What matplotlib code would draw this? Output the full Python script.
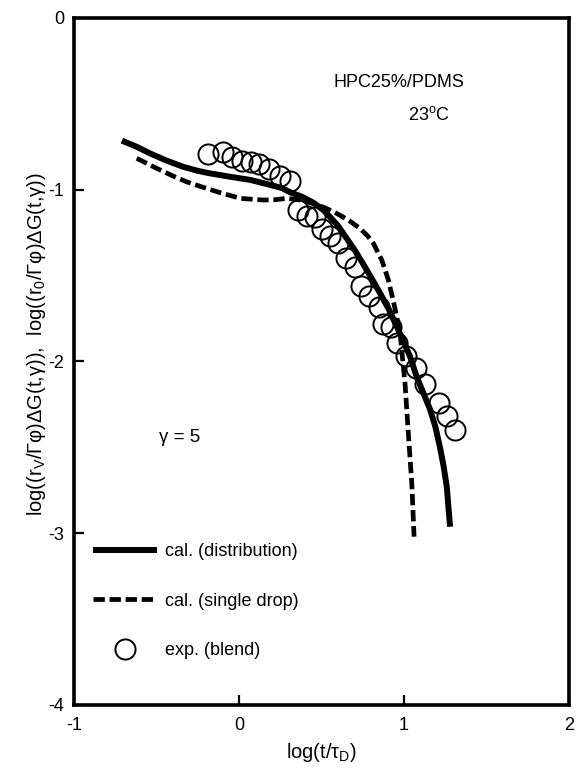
import matplotlib
matplotlib.use('Agg')
import matplotlib.pyplot as plt

plt.rcParams['font.family'] = ['Liberation Sans', 'DejaVu Sans']
plt.rcParams['mathtext.default'] = 'regular'

# cal. (distribution)
dist_x = [-0.71, -0.62, -0.54, -0.44, -0.34, -0.25, -0.18, -0.05, 0.07, 0.19, 0.26,
          0.31, 0.38, 0.45, 0.51, 0.55, 0.60, 0.65, 0.70, 0.75, 0.80, 0.855, 0.91,
          0.956, 1.0, 1.036, 1.077, 1.12, 1.158, 1.19, 1.218, 1.24, 1.259, 1.279]
dist_y = [-0.714, -0.75, -0.788, -0.83, -0.866, -0.89, -0.904, -0.925, -0.943, -0.972, -0.99,
          -1.015, -1.04, -1.075, -1.118, -1.157, -1.21, -1.28, -1.35, -1.428, -1.51, -1.603, -1.70,
          -1.797, -1.89, -1.97, -2.09, -2.19, -2.28, -2.38, -2.50, -2.61, -2.729, -2.962]

# cal. (single drop)
drop_x = [-0.62, -0.50, -0.40, -0.32, -0.22, -0.135, 0.006, 0.147, 0.22, 0.289, 0.37,
          0.45, 0.52, 0.59, 0.66, 0.733, 0.78, 0.814, 0.865, 0.905, 0.945, 0.976,
          1.006, 1.026, 1.047, 1.061]
drop_y = [-0.817, -0.875, -0.92, -0.953, -0.985, -1.011, -1.05, -1.06, -1.058, -1.05, -1.06,
          -1.08, -1.105, -1.137, -1.175, -1.225, -1.27, -1.312, -1.409, -1.525, -1.69, -1.836,
          -2.127, -2.418, -2.709, -3.02]

# exp. (blend)
exp_x = [-0.19, -0.10, -0.04, 0.02, 0.07, 0.12, 0.18, 0.25, 0.31, 0.36, 0.41, 0.46,
         0.50, 0.55, 0.60, 0.65, 0.70, 0.74, 0.79, 0.85, 0.87, 0.92, 0.96, 1.01,
         1.07, 1.13, 1.21, 1.26, 1.31]
exp_y = [-0.79, -0.78, -0.81, -0.83, -0.84, -0.85, -0.88, -0.92, -0.95, -1.12, -1.15, -1.16,
         -1.23, -1.27, -1.31, -1.40, -1.45, -1.56, -1.62, -1.68, -1.78, -1.80, -1.89, -1.97,
         -2.04, -2.13, -2.24, -2.32, -2.40]

fig = plt.figure(figsize=(5.76, 7.72), dpi=100)
ax = fig.add_axes([0.1285, 0.0868, 0.8594, 0.8899])

ax.plot(dist_x, dist_y, color='black', lw=4.3, solid_capstyle='butt',
        solid_joinstyle='round', label='cal. (distribution)')
ax.plot(drop_x, drop_y, color='black', lw=3.4, dashes=(2.4, 1.0),
        label='cal. (single drop)')
ax.plot(exp_x, exp_y, linestyle='none', marker='o', ms=14.5, mfc='none',
        mec='black', mew=1.4, label='exp. (blend)')

ax.set_xlim(-1, 2)
ax.set_ylim(-4, 0)
ax.set_xticks([-1, 0, 1, 2])
ax.set_yticks([-4, -3, -2, -1, 0])
ax.set_xticklabels(['-1', '0', '1', '2'])
ax.set_yticklabels(['-4', '-3', '-2', '-1', '0'])
ax.tick_params(direction='in', length=7, width=1.6, labelsize=13)
ax.tick_params(axis='x', pad=9)
ax.tick_params(axis='y', pad=7)
for s in ax.spines.values():
    s.set_linewidth(2.6)

ax.set_xlabel('log(t/τ$_D$)', fontsize=14.5, labelpad=5)
ax.set_ylabel('log((r$_V$/Γφ)ΔG(t,γ)),  log((r$_0$/Γφ)ΔG(t,γ))', fontsize=14.5, labelpad=4)
ax.yaxis.set_label_coords(-0.052, 0.525)

ax.text(0.97, -0.373, 'HPC25%/PDMS', fontsize=13, ha='center', va='center')
ax.text(1.15, -0.565, '23$^{o}$C', fontsize=13, ha='center', va='center')
ax.text(-0.36, -2.44, 'γ = 5', fontsize=13.5, ha='center', va='center')

ax.legend(loc='upper left', bbox_to_anchor=(0.024, 0.246), borderaxespad=0, frameon=False,
          fontsize=13, handlelength=3.55, handletextpad=0.45, labelspacing=1.8, numpoints=1)

fig.savefig('out.png', dpi=100)
